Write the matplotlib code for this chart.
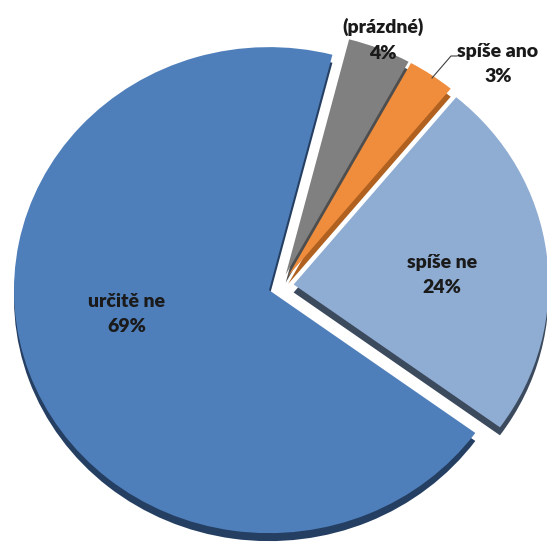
import matplotlib
matplotlib.use("Agg")
import matplotlib.pyplot as plt

# Survey answers (share of respondents, %)
categories = ["spíše ne", "spíše ano", "(prázdné)", "určitě ne"]
values = [24, 3, 4, 69]
labels = ["spíše ne\n24%", "spíše ano\n3%", "(prázdné)\n4%", "určitě ne\n69%"]

face_colors = ["#8FACD3", "#EF8D3D", "#808080", "#4F7FBB"]
side_colors = ["#3C4A5D", "#B0601F", "#4E4E4E", "#253F63"]

W, H = 547, 542
fig = plt.figure(figsize=(W / 100, H / 100), dpi=100)
ax = fig.add_axes([0, 0, 1, 1])

# Horizontal / vertical pixel scale of the unit pie (slightly flattened, 3-D look)
sx, sy = 255.0, 243.0
cx, cy = 281.0, 286.0
explode = [0.05] * len(values)
start = -36
depth = 8.0 / sy

# side (depth) of the pie, drawn underneath and shifted down
ax.pie(values, colors=side_colors, startangle=start, counterclock=True,
       explode=explode, radius=1.0, center=(0, -depth),
       wedgeprops=dict(linewidth=0))
# top face
ax.pie(values, colors=face_colors, startangle=start, counterclock=True,
       explode=explode, radius=1.0, center=(0, 0),
       wedgeprops=dict(linewidth=0))
ax.set_xlim(-cx / sx, (W - cx) / sx)
ax.set_ylim(-(H - cy) / sy, cy / sy)
ax.set_aspect("auto")
ax.axis("off")

# label centres in figure pixels (from the top-left corner)
label_pos = {
    "spíše ne": (442, 275),
    "spíše ano": (498, 64),
    "(prázdné)": (383, 40),
    "určitě ne": (127, 314),
}
font = dict(family=["Lato", "DejaVu Sans"], fontweight="heavy", fontsize=14,
            color="#1A1A1A", linespacing=1.6)
for cat, lab in zip(categories, labels):
    px, py = label_pos[cat]
    fig.text(px / W, 1 - py / H, lab, ha="center", va="center", **font)

# leader line for the small orange slice
fig.add_artist(plt.Line2D([432 / W, 451 / W, 457 / W],
                          [1 - 78 / H, 1 - 56 / H, 1 - 56 / H],
                          color="#404040", linewidth=0.8))

fig.savefig("out.png", dpi=100, facecolor="white")
